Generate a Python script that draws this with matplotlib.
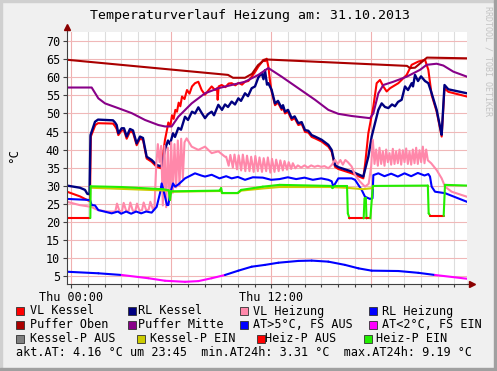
import numpy as np
import matplotlib
matplotlib.use('Agg')
import matplotlib.pyplot as plt
from matplotlib.collections import LineCollection
from matplotlib.patches import Rectangle

plt.rcParams['font.family'] = 'DejaVu Sans Mono'

# Zeit in Stunden ab Mitternacht (Start 23:45 am Vortag, Ende 23:45)
t_oben = [-0.25, 9.41, 9.71, 10.43, 10.85, 11.21, 11.63, 20.15, 20.33, 20.63, 21.35, 23.75]
v_oben = [64.9, 60.7, 59.9, 59.9, 61.0, 63.4, 65.0, 63.2, 62.6, 62.7, 65.5, 65.3]

t_mitte = [-0.25, 1.23, 1.63, 2.03, 2.81, 3.63, 4.43, 5.23, 5.63, 6.03, 6.43, 7.23, 8.03, 8.83,
           9.63, 10.43, 11.23, 11.83, 12.63, 13.63, 14.63, 15.43, 16.03, 16.83, 17.93, 18.13,
           18.43, 18.73, 19.33, 20.13, 20.93, 21.33, 21.93, 22.33, 22.93, 23.75]
v_mitte = [57.2, 57.2, 54.2, 52.8, 51.5, 50.1, 48.2, 46.8, 46.4, 46.4, 49.1, 52.8, 55.6, 57.0,
           57.9, 58.8, 60.7, 62.6, 60.2, 57.0, 53.8, 51.0, 49.9, 49.3, 48.7, 50.0,
           55.6, 57.9, 58.8, 60.2, 62.1, 63.5, 63.8, 63.3, 61.6, 60.2]

t_rlk = [-0.25, 0.53, 0.83, 0.97, 1.10, 1.16, 1.43, 1.61, 2.51, 2.63, 2.73, 2.83, 3.03, 3.17, 3.33,
         3.53, 3.71, 3.93, 4.13, 4.31, 4.53, 4.83, 5.13, 5.43, 5.63, 5.81, 5.93, 6.11, 6.23, 6.43,
         6.59, 6.83, 7.01, 7.25, 7.43, 7.63, 7.85, 8.03, 8.21, 8.43, 8.57, 8.83, 9.05, 9.23, 9.41,
         9.63, 9.83, 10.03, 10.19, 10.43, 10.61, 10.83, 11.03, 11.23, 11.43, 11.54, 11.63, 11.75,
         11.83, 12.03, 12.23, 12.41, 12.63, 12.71, 12.83, 13.01, 13.23, 13.41, 13.63, 13.83, 14.03,
         14.23, 14.43, 14.63, 15.03, 15.43, 15.63, 15.83, 16.03, 16.83, 17.53, 17.73, 17.83, 18.03,
         18.43, 18.63, 18.83, 19.03, 19.25, 19.43, 19.61, 19.83, 20.03, 20.21, 20.43, 20.51, 20.63,
         20.81, 20.99, 21.23, 21.43, 21.63, 21.93, 22.13, 22.23, 22.40, 22.63, 23.75]
v_rlk = [30.0, 29.4, 28.8, 27.7, 27.6, 44.0, 47.7, 48.3, 48.1, 47.5, 46.8, 44.5, 45.9, 45.9, 43.6,
         45.7, 45.3, 41.7, 43.6, 43.2, 38.0, 37.1, 35.7, 35.3, 40.0, 42.5, 41.5, 44.5, 43.5, 46.0,
         45.5, 49.1, 48.2, 50.5, 50.0, 51.7, 50.0, 48.7, 49.8, 50.5, 49.5, 52.4, 51.0, 52.5, 51.8,
         53.3, 52.5, 54.2, 53.5, 55.6, 54.8, 57.0, 57.5, 60.0, 61.2, 59.5, 62.0, 58.0,
         58.4, 56.5, 52.8, 53.5, 51.5, 52.3, 50.5, 51.0, 48.7, 49.2, 47.3, 47.6, 45.4,
         45.2, 44.0, 43.6, 42.7, 41.3, 39.9, 35.7, 35.1, 33.9, 32.5, 36.2, 38.0, 43.6,
         51.0, 52.8, 51.8, 51.5, 52.5, 52.0, 53.2, 53.8, 57.5, 56.5, 58.4, 57.5, 60.7,
         59.0, 60.3, 59.0, 58.4, 55.6, 51.0, 46.4, 44.1, 57.9, 56.7, 55.6]

t_vlk = [-0.25, 0.53, 0.83, 1.05, 1.13, 1.18, 1.45, 1.61, 2.51, 2.63, 2.73, 2.83, 3.03, 3.17, 3.33,
         3.53, 3.71, 3.93, 4.13, 4.31, 4.53, 4.83, 5.13, 5.40, 5.55, 5.63, 5.75, 5.83, 5.95, 6.05,
         6.15, 6.25, 6.35, 6.45, 6.55, 6.65, 6.80, 6.95, 7.10, 7.25, 7.43, 7.63, 7.83, 8.03, 8.25,
         8.43, 8.63, 8.75, 8.79, 8.85, 9.03, 9.25, 9.45, 9.63, 9.85, 10.05, 10.25, 10.43, 10.63,
         10.83, 11.03, 11.23, 11.40, 11.53, 11.63, 11.73, 11.83, 11.93, 12.03, 12.23, 12.41, 12.63,
         12.71, 12.83, 13.01, 13.23, 13.41, 13.63, 13.83, 14.03, 14.23, 14.43, 14.63, 15.03, 15.43,
         15.63, 15.83, 16.03, 16.83, 17.53, 17.65, 17.83, 18.13, 18.33, 18.53, 18.73, 18.93, 19.13,
         19.63, 20.13, 20.43, 20.83, 21.23, 21.43, 21.63, 21.93, 22.13, 22.23, 22.40, 22.63, 23.75]
v_vlk = [28.3, 27.0, 26.3, 25.8, 25.8, 43.6, 46.8, 47.3, 47.2, 46.5, 45.7, 44.0, 45.3, 45.3, 43.0,
         45.0, 44.7, 41.2, 43.0, 42.7, 37.5, 36.6, 35.2, 34.8, 40.0, 42.7, 45.5, 47.5, 46.5, 49.5,
         48.5, 51.0, 50.5, 53.0, 52.0, 54.7, 54.0, 56.5, 55.5, 57.5, 58.4, 58.8, 56.5, 55.2, 56.5,
         57.5, 56.5, 57.0, 53.8, 57.5, 57.9, 57.3, 58.3, 58.4, 57.8, 58.5, 58.0, 58.8, 59.0,
         60.2, 61.5, 63.0, 64.0, 64.9, 64.5, 65.2, 63.0, 59.0, 56.0, 52.3, 53.0, 51.0,
         51.8, 50.0, 50.5, 48.2, 48.7, 46.8, 47.1, 44.9, 44.7, 43.5, 43.1, 42.2, 40.8,
         39.4, 35.2, 34.6, 33.4, 32.0, 36.5, 44.5, 51.9, 58.4, 59.3, 57.5, 56.1, 57.0,
         58.4, 60.7, 63.5, 64.4, 64.9, 62.1, 55.1, 50.5, 45.9, 43.6, 57.0, 56.0, 54.7]

t_vlh = [-0.25, 0.5, 1.2, 1.6, 2.2, 2.65, 2.75, 2.9, 3.05, 3.15, 3.3, 3.45, 3.55, 3.7, 3.85, 3.95,
         4.1, 4.25, 4.35, 4.5, 4.65, 4.75, 4.9, 5.0, 5.1, 5.2, 5.3, 5.4, 5.5, 5.6, 5.7, 5.8, 5.9,
         6.0, 6.1, 6.2, 6.3, 6.4, 6.5, 6.6, 6.7, 6.8, 6.93, 7.23, 7.63, 8.03, 8.43, 8.83, 9.23,
         9.3, 9.45, 9.55, 9.7, 9.8, 9.95, 10.05, 10.2, 10.3, 10.45, 10.55, 10.7, 10.8, 10.95, 11.05,
         11.2, 11.3, 11.45, 11.55, 11.7, 11.8, 11.95, 12.05, 12.2, 12.3, 12.45, 12.55, 12.7, 12.8,
         12.95, 13.05, 13.2, 13.3, 13.45, 13.6, 13.8, 14.0, 14.2, 14.4, 14.6, 14.8, 15.0, 15.2,
         15.43, 15.63, 15.83, 16.0, 16.15, 16.3, 16.45, 16.6, 16.83, 17.03, 17.33, 17.63, 17.85,
         18.0, 18.1, 18.2, 18.3, 18.4, 18.5, 18.6, 18.7, 18.8, 18.9, 19.0, 19.1, 19.2, 19.3, 19.4,
         19.5, 19.6, 19.7, 19.8, 19.9, 20.0, 20.1, 20.2, 20.3, 20.4, 20.5, 20.6, 20.7, 20.8, 20.9,
         21.0, 21.1, 21.2, 21.3, 21.4, 21.6, 21.93, 22.23, 22.43, 22.83, 23.75]
v_vlh = [25.5, 24.6, 24.1, 23.2, 22.8, 22.8, 25.0, 22.9, 22.9, 25.2, 23.0, 23.0, 25.3, 23.0, 23.0, 25.0,
         23.0, 23.2, 25.3, 23.2, 23.3, 25.5, 23.5, 24.0, 35.3, 41.5, 36.5, 41.0, 24.5, 41.0, 24.0, 40.5, 26.0,
         42.0, 28.0, 41.5, 29.5, 42.5, 30.0, 43.0, 32.0, 42.0, 43.1, 40.8, 39.9, 40.8, 39.0, 39.5, 38.0,
         38.0, 35.5, 38.5, 35.0, 38.6, 34.5, 38.4, 34.2, 38.6, 34.0, 38.3, 34.0, 38.0, 33.8, 38.2,
         34.0, 37.8, 33.8, 37.6, 34.0, 37.8, 33.6, 37.4, 33.8, 37.2, 34.0, 37.0, 34.2, 36.8,
         34.4, 36.5, 34.6, 36.2, 34.8, 35.6, 35.0, 35.6, 35.0, 35.6, 35.2, 35.5, 35.2, 35.4,
         34.8, 35.7, 37.1, 36.0, 37.1, 35.8, 37.1, 36.5, 35.3, 32.9, 31.1, 29.7, 30.5,
         35.3, 42.7, 36.0, 40.0, 35.5, 40.5, 36.0, 39.5, 35.5, 40.0, 36.5, 39.0, 35.8, 40.2, 36.0,
         39.5, 36.2, 40.0, 35.8, 39.8, 36.5, 40.3, 36.0, 39.5, 35.8, 40.0, 36.2, 40.5, 36.0, 39.8,
         36.5, 40.8, 36.2, 40.0, 37.0, 36.2, 34.3, 32.0, 29.7, 28.3, 26.9]

t_rlh = [-0.25, 1.13, 1.23, 1.43, 1.63, 2.43, 2.8, 3.0, 3.3, 3.6, 3.9, 4.2, 4.5, 4.83, 5.13, 5.33,
         5.43, 5.55, 5.75, 5.83, 5.95, 6.11, 6.23, 6.43, 6.83, 7.43, 7.8, 8.03, 8.43, 8.9, 9.3, 9.63,
         10.0, 10.43, 10.9, 11.5, 12.0, 12.5, 13.0, 13.5, 14.0, 14.5, 15.0, 15.43, 15.63, 15.73,
         16.03, 16.83, 17.03, 17.43, 17.63, 17.93, 18.08, 18.13, 18.43, 18.8, 19.2, 19.6, 20.0,
         20.4, 20.8, 21.2, 21.43, 21.53, 21.63, 21.83, 22.43, 23.75]
v_rlh = [26.3, 26.0, 24.6, 24.5, 23.2, 22.3, 22.8, 22.2, 22.8, 22.2, 22.8, 22.3, 22.8, 22.5, 24.1, 27.9,
         30.6, 28.5, 24.6, 24.6, 28.0, 30.6, 29.7, 30.3, 32.0, 33.4, 32.8, 32.5, 33.0, 32.0, 32.6, 32.0,
         32.4, 31.6, 32.3, 32.2, 31.6, 31.8, 32.3, 31.8, 32.2, 31.6, 32.0, 31.6, 31.2, 29.7,
         32.0, 32.0, 31.6, 28.8, 26.9, 26.3, 26.5, 32.9, 33.4, 32.6, 33.3, 32.5, 33.4,
         32.6, 33.5, 32.8, 33.2, 32.5, 29.7, 28.3, 27.9, 25.5]

t_at = [-0.25, 1.63, 3.03, 4.63, 5.63, 6.83, 7.63, 8.43, 9.23, 10.03, 10.83, 11.63, 12.43, 13.63,
        14.43, 15.43, 16.43, 17.23, 18.03, 19.63, 20.83, 21.83, 23.75]
v_at = [6.1, 5.67, 5.2, 4.3, 3.6, 3.31, 3.5, 4.3, 5.2, 6.4, 7.5, 8.0, 8.6, 9.1,
        9.19, 8.9, 8.0, 7.05, 6.4, 6.3, 5.8, 5.2, 4.16]

t_kp = [1.2, 5.85, 6.0, 9.0, 9.05, 10.0, 10.2, 11.5, 12.5, 15.6, 16.5, 17.5, 18.1]
v_kp = [29.4, 28.6, 28.3, 28.5, 27.9, 27.9, 28.6, 29.2, 29.6, 29.6, 29.4, 29.0, 29.3]

t_hp = [-0.25, 1.15, 1.17, 3.0, 5.5, 5.85, 5.93, 6.0, 8.9, 9.0, 9.05, 10.0, 10.2, 11.5, 12.5,
        15.6, 15.68, 15.8, 16.55, 16.6, 16.7, 17.55, 17.6, 17.68, 17.72, 17.95, 18.1, 21.4,
        21.45, 21.55, 22.35, 22.43, 23.75]
v_hp = [21.0, 21.0, 29.8, 29.6, 29.0, 28.7, 26.0, 28.4, 28.6, 29.3, 28.0, 28.0, 28.8, 29.7, 30.2,
        29.9, 29.3, 29.9, 29.9, 22.3, 20.9, 20.9, 26.5, 26.5, 20.9, 20.9, 29.9, 30.0,
        22.3, 21.6, 21.6, 30.2, 30.0]
hp_ein = [0, 0, 1, 1, 1, 1, 1, 1, 1, 1, 1, 1, 1, 1, 1,
          1, 1, 1, 1, 1, 0, 0, 1, 1, 0, 0, 1, 1,
          1, 0, 0, 1, 1]

legende = [
    ('VL Kessel', '#FF0000'), ('RL Kessel', '#000080'), ('VL Heizung', '#FF88AA'), ('RL Heizung', '#0000FF'),
    ('Puffer Oben', '#AA0000'), ('Puffer Mitte', '#880088'), ('AT>5°C, FS AUS', '#0000FF'), ('AT<2°C, FS EIN', '#FF00FF'),
    ('Kessel-P AUS', '#808080'), ('Kessel-P EIN', '#CCCC00'), ('Heiz-P AUS', '#FF0000'), ('Heiz-P EIN', '#22EE00'),
]

W, H = 497, 371
fig = plt.figure(figsize=(W / 100, H / 100), dpi=100, facecolor='#F0F0F0')
ax = fig.add_axes([67 / W, 1 - 284 / H, 400 / W, 252 / H])
ax.set_facecolor('white')
ax.set_xlim(-0.25, 23.75)
ax.set_ylim(2.7, 72.6)

# Gitter
for h in range(0, 24):
    ax.axvline(h, color='#F0B0B0' if h % 6 == 0 else '#DDDDDD', lw=0.8, zorder=0)
for v in range(5, 75, 5):
    ax.axhline(v, color='#F0B8B8', lw=0.8, zorder=0)

lw = 1.5
ax.plot(t_vlk, v_vlk, color='#FF0000', lw=lw, zorder=2)
ax.plot(t_rlk, v_rlk, color='#000080', lw=lw + 0.2, zorder=3)
ax.plot(t_vlh, v_vlh, color='#FF88AA', lw=lw, zorder=4)
ax.plot(t_rlh, v_rlh, color='#0000FF', lw=lw, zorder=5)
ax.plot(t_oben, v_oben, color='#AA0000', lw=lw, zorder=6)
ax.plot(t_mitte, v_mitte, color='#880088', lw=lw, zorder=7)

# Aussentemperatur, Farbe nach Schwelle
seg_at = [[(t_at[i], v_at[i]), (t_at[i + 1], v_at[i + 1])] for i in range(len(t_at) - 1)]
col_at = ['#0000FF' if (v_at[i] + v_at[i + 1]) / 2 >= 5 else '#FF00FF' for i in range(len(t_at) - 1)]
ax.add_collection(LineCollection(seg_at, colors=col_at, linewidths=lw, zorder=8, capstyle='round'))

ax.plot(t_kp, v_kp, color='#CCCC00', lw=lw, zorder=9)

seg_hp = [[(t_hp[i], v_hp[i]), (t_hp[i + 1], v_hp[i + 1])] for i in range(len(t_hp) - 1)]
col_hp = ['#22EE00' if (hp_ein[i] or hp_ein[i + 1]) else '#FF0000' for i in range(len(t_hp) - 1)]
ax.add_collection(LineCollection(seg_hp, colors=col_hp, linewidths=lw, zorder=10, capstyle='round'))

# Achsen
for s in ['top', 'right']:
    ax.spines[s].set_visible(False)
for s in ['left', 'bottom']:
    ax.spines[s].set_color('#404040')
    ax.spines[s].set_linewidth(0.8)
    ax.spines[s].set_zorder(11)
ax.plot([-0.25, -0.25], [72.6, 73.8], color='#404040', lw=0.8, clip_on=False)
ax.plot([23.75, 24.0], [2.7, 2.7], color='#404040', lw=0.8, clip_on=False)
ax.plot(-0.25, 73.9, marker='^', ms=4, color='#8B0000', clip_on=False, zorder=12)
ax.plot(24.05, 2.7, marker='>', ms=4, color='#8B0000', clip_on=False, zorder=12)

ax.set_xticks([0, 12])
ax.set_xticklabels(['Thu 00:00', 'Thu 12:00'])
ax.set_xticks(range(0, 24), minor=True)
ax.set_yticks(range(5, 75, 5))
ax.tick_params(axis='both', which='major', labelsize=8.5, length=3, width=0.8, color='#404040', pad=2)
ax.tick_params(axis='both', which='minor', length=2, width=0.8, color='#404040')

fig.text(250 / W, 1 - 16 / H, 'Temperaturverlauf Heizung am: 31.10.2013', ha='center', va='center', fontsize=9.5)
fig.text(14 / W, 1 - 155 / H, '°C', rotation=90, ha='center', va='center', fontsize=9)
fig.text(488 / W, 1 - 6 / H, 'RRDTOOL / TOBI OETIKER', rotation=270, ha='center', va='top',
         fontsize=6, color='#C4C4C4')

# Legende
sq_x = [16, 128, 240, 369, 16, 128, 240, 369, 16, 137, 257, 364]
tx_x = [30, 138, 253, 382, 30, 138, 253, 382, 30, 150, 265, 376]
rows = [311, 311, 311, 311, 325, 325, 325, 325, 339, 339, 339, 339]
for (name, c), sx, tx, ry in zip(legende, sq_x, tx_x, rows):
    fig.patches.append(Rectangle((sx / W, 1 - (ry + 4) / H), 8 / W, 8 / H, transform=fig.transFigure,
                                 facecolor=c, edgecolor='#303030', lw=0.6))
    fig.text(tx / W, 1 - ry / H, name, ha='left', va='center', fontsize=8.5)
fig.text(16.5 / W, 1 - 353 / H, 'akt.AT: 4.16 °C um 23:45  min.AT24h: 3.31 °C  max.AT24h: 9.19 °C',
         ha='left', va='center', fontsize=8.5)

# Rahmen
fig.patches.append(Rectangle((0, 0), 2 / W, 1, transform=fig.transFigure, color='#D0D0D0'))
fig.patches.append(Rectangle((0, 1 - 2 / H), 1, 2 / H, transform=fig.transFigure, color='#D0D0D0'))
fig.patches.append(Rectangle((1 - 3 / W, 0), 3 / W, 1, transform=fig.transFigure, color='#A0A0A0'))
fig.patches.append(Rectangle((0, 0), 1, 3 / H, transform=fig.transFigure, color='#A0A0A0'))

fig.savefig('out.png', dpi=100, facecolor=fig.get_facecolor())
